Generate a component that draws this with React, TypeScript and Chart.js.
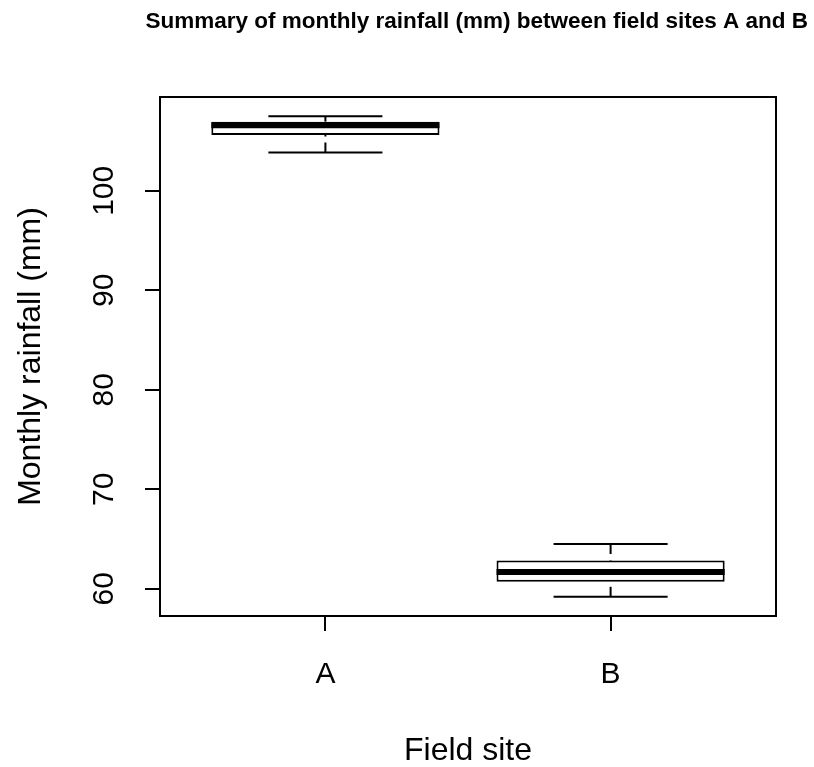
import React, { useEffect, useRef } from 'react';
import { Chart, registerables } from 'chart.js';

Chart.register(...registerables);

// ---- data ----
const sites = ['A', 'B'];
const sitePositions = [1, 2];
const whiskerLow = [103.85, 59.2];
const quartile1 = [105.6, 60.7];
const medians = [106.6, 61.7];
const quartile3 = [106.95, 62.85];
const whiskerHigh = [107.5, 64.5];
const yTicks = [60, 70, 80, 90, 100];
const yRange = [57.27, 109.43];
const xRange = [0.42, 2.58];

const FONT = "'Liberation Sans', Arial, sans-serif";

const boxExtras = {
  id: 'boxExtras',
  afterDatasetsDraw(chart: any) {
    const { ctx, chartArea, scales } = chart;
    const ys = scales.y;
    const meta = chart.getDatasetMeta(0);
    ctx.save();
    ctx.strokeStyle = '#000';
    ctx.lineCap = 'butt';
    meta.data.forEach((bar: any, i: number) => {
      const x = bar.x;
      const half = bar.width / 2;
      const pLow = ys.getPixelForValue(whiskerLow[i]);
      const pQ1 = ys.getPixelForValue(quartile1[i]);
      const pMed = ys.getPixelForValue(medians[i]);
      const pQ3 = ys.getPixelForValue(quartile3[i]);
      const pHigh = ys.getPixelForValue(whiskerHigh[i]);
      // dashed whiskers
      ctx.lineWidth = 2;
      ctx.setLineDash([10, 6]);
      ctx.beginPath();
      ctx.moveTo(x, pHigh);
      ctx.lineTo(x, pQ3);
      ctx.stroke();
      ctx.beginPath();
      ctx.moveTo(x, pLow);
      ctx.lineTo(x, pQ1);
      ctx.stroke();
      ctx.setLineDash([]);
      // staples
      ctx.beginPath();
      ctx.moveTo(x - half / 2, pHigh);
      ctx.lineTo(x + half / 2, pHigh);
      ctx.moveTo(x - half / 2, pLow);
      ctx.lineTo(x + half / 2, pLow);
      ctx.stroke();
      // median
      ctx.lineWidth = 6;
      ctx.beginPath();
      ctx.moveTo(x - half, pMed);
      ctx.lineTo(x + half, pMed);
      ctx.stroke();
    });
    // plot frame
    ctx.lineWidth = 2;
    ctx.strokeRect(chartArea.left, chartArea.top, chartArea.width, chartArea.height);
    ctx.restore();
  },
};

export default function App() {
  const ref = useRef<HTMLCanvasElement | null>(null);

  useEffect(() => {
    document.body.style.margin = '0';
    const canvas = ref.current;
    if (!canvas) return;
    const chart = new Chart(canvas, {
      type: 'bar',
      data: {
        datasets: [
          {
            data: sitePositions.map((p, i) => ({ x: p, y: [quartile1[i], quartile3[i]] })) as any,
            backgroundColor: '#fff',
            borderColor: '#000',
            borderWidth: 2,
            borderSkipped: false,
            barPercentage: 0.8,
            categoryPercentage: 1,
          },
        ],
      },
      options: {
        responsive: false,
        animation: false,
        devicePixelRatio: 1,
        layout: { padding: { left: 0, right: 6, top: 0, bottom: 0 } },
        plugins: {
          legend: { display: false },
          tooltip: { enabled: false },
          title: {
            display: true,
            text: 'Summary of monthly rainfall (mm) between field sites A and B',
            align: 'end',
            color: '#000',
            font: { family: FONT, size: 22.5, weight: 'bold', lineHeight: 1.2 },
            padding: { top: 8, bottom: 62 },
          },
        },
        scales: {
          x: {
            type: 'linear',
            offset: false,
            min: xRange[0],
            max: xRange[1],
            afterBuildTicks: (s: any) => {
              s.ticks = sitePositions.map((v) => ({ value: v }));
            },
            afterFit: (s: any) => {
              s.height = 151;
            },
            ticks: {
              autoSkip: false,
              maxRotation: 0,
              minRotation: 0,
              padding: 26,
              color: '#000',
              font: { family: FONT, size: 30, lineHeight: 1.2 },
              callback: (v: any) => {
                const idx = sitePositions.indexOf(Number(v));
                return idx >= 0 ? sites[idx] : '';
              },
            },
            grid: {
              offset: false,
              drawOnChartArea: false,
              drawTicks: true,
              tickLength: 15,
              color: '#000',
              lineWidth: 2,
            },
            border: { display: true, color: '#000', width: 2 },
            title: {
              display: true,
              text: 'Field site',
              color: '#000',
              font: { family: FONT, size: 32, lineHeight: 1 },
              padding: { top: 0, bottom: 0 },
            },
          },
          y: {
            type: 'linear',
            position: 'left',
            min: yRange[0],
            max: yRange[1],
            afterBuildTicks: (s: any) => {
              s.ticks = yTicks.map((v) => ({ value: v }));
            },
            afterFit: (s: any) => {
              s.width = 160;
            },
            ticks: {
              autoSkip: false,
              minRotation: 90,
              maxRotation: 90,
              crossAlign: 'center',
              padding: 15,
              color: '#000',
              font: { family: FONT, size: 30, lineHeight: 1.2 },
              callback: (v: any) => String(v),
            },
            grid: {
              drawOnChartArea: false,
              drawTicks: true,
              tickLength: 15,
              color: '#000',
              lineWidth: 2,
            },
            border: { display: true, color: '#000', width: 2 },
            title: {
              display: true,
              text: 'Monthly rainfall (mm)',
              color: '#000',
              font: { family: FONT, size: 32, lineHeight: 1 },
              padding: { top: 15, bottom: 0 },
            },
          },
          y2: {
            type: 'linear',
            position: 'right',
            display: true,
            afterFit: (s: any) => {
              s.width = 32;
            },
            ticks: { display: false },
            grid: { display: false, drawTicks: false },
            border: { display: false },
          },
        },
      },
      plugins: [boxExtras],
    } as any);
    return () => chart.destroy();
  }, []);

  return (
    <div style={{ width: 814, height: 767 }}>
      <canvas ref={ref} width={814} height={767} style={{ display: 'block', width: 814, height: 767 }} />
    </div>
  );
}
